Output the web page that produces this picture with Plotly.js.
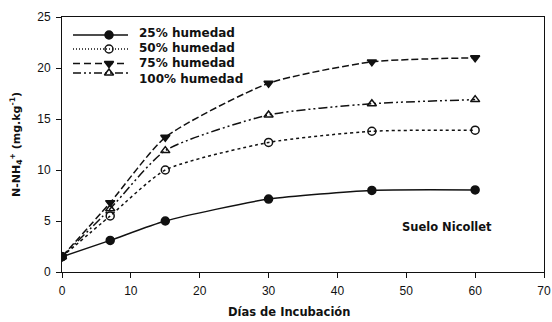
<!DOCTYPE html>
<html><head><meta charset="utf-8">
<script src="https://cdn.plot.ly/plotly-3.0.1.min.js"></script>
<style>html,body{margin:0;padding:0;background:#fff}#c{width:552px;height:322px}</style>
</head><body><div id="c"></div>
<script>
const days = [0, 7, 15, 30, 45, 60];
const h25 = [1.5, 3.1, 5.0, 7.15, 8.0, 8.05];
const h50 = [1.5, 5.5, 10.0, 12.7, 13.8, 13.9];
const h75 = [1.5, 6.8, 13.2, 18.5, 20.6, 21.0];
const h100 = [1.5, 6.2, 11.9, 15.4, 16.5, 16.9];
const names = ['25% humedad', '50% humedad', '75% humedad', '100% humedad'];
const xTicks = [0, 10, 20, 30, 40, 50, 60, 70];
const yTicks = [0, 5, 10, 15, 20, 25];

const series = [h25, h50, h75, h100];
const dashes = ['solid', 'dot', '7px,3px', '9px,3px,2px,3px,2px,3px'];
const legDashes = ['solid', '1px,2px', '7px,4px', '8px,3px,2px,3px,2px,3px'];
const symbols = ['circle', 'circle-open', 'triangle-down', 'triangle-up-open'];
const ink = '#111';
const traces = series.map((s, i) => ({
  x: days, y: s, name: names[i], type: 'scatter', mode: 'lines+markers', showlegend: false,
  line: {color: ink, width: 1.5, dash: dashes[i], shape: 'spline', smoothing: 0.6},
  marker: {symbol: symbols[i], size: 8, color: ink, line: {color: ink, width: 1.5}}
}));

// hand-drawn legend on a pixel-based overlay axis
const legLineY = [35, 49, 63.5, 73];
const legTextY = [33, 48, 63, 79];
const annotations = [];
names.forEach((n, i) => {
  traces.push({x: [73, 128], y: [legLineY[i], legLineY[i]], xaxis: 'x2', yaxis: 'y2', mode: 'lines',
    showlegend: false, hoverinfo: 'skip', line: {color: ink, width: 1.5, dash: legDashes[i]}});
  traces.push({x: [109], y: [legLineY[i]], xaxis: 'x2', yaxis: 'y2', mode: 'markers',
    showlegend: false, hoverinfo: 'skip',
    marker: {symbol: symbols[i], size: 8, color: ink, line: {color: ink, width: 1.5}}});
  annotations.push({x: 137, y: legTextY[i], xref: 'x2', yref: 'y2', xanchor: 'left', yanchor: 'middle',
    text: '<b>' + n + '</b>', showarrow: false,
    font: {family: 'DejaVu Sans, sans-serif', size: 12, color: ink}});
});

const tickFont = {family: 'Liberation Sans, Arial, sans-serif', size: 12, color: ink};
annotations.push({x: 55.9, y: 4.4, xref: 'x', yref: 'y', text: '<b>Suelo Nicollet</b>', showarrow: false,
  font: {family: 'DejaVu Sans, sans-serif', size: 11.5, color: ink}});
annotations.push({x: (288.5 - 62) / 482, y: 0, xref: 'paper', yref: 'paper', yanchor: 'middle', yshift: -40,
  text: '<b>Días de Incubación</b>', showarrow: false,
  font: {family: 'DejaVu Sans, sans-serif', size: 11.5, color: ink}});

const layout = {
  width: 552, height: 322,
  margin: {l: 62, r: 8, t: 17, b: 50},
  paper_bgcolor: '#fff', plot_bgcolor: '#fff',
  font: {family: 'Liberation Sans, Arial, sans-serif', size: 11, color: ink},
  showlegend: false,
  xaxis: {range: [0, 70], tickvals: xTicks, ticks: 'outside', ticklen: 5, tickwidth: 1, tickcolor: ink,
    ticklabelstandoff: 3,
    showline: true, linecolor: ink, linewidth: 1, mirror: true, showgrid: false, zeroline: false,
    tickfont: tickFont},
  yaxis: {range: [0, 25], tickvals: yTicks, ticks: 'outside', ticklen: 5, tickwidth: 1, tickcolor: ink,
    ticklabelstandoff: 3,
    showline: true, linecolor: ink, linewidth: 1, mirror: true, showgrid: false, zeroline: false,
    tickfont: tickFont,
    title: {text: '<b>N-NH<sub>4</sub><sup>+</sup> (mg.kg<sup>-1</sup>)</b>',
      font: {family: 'DejaVu Sans, sans-serif', size: 11, color: ink}, standoff: 14}},
  xaxis2: {overlaying: 'x', anchor: 'y2', range: [62, 544], visible: false, fixedrange: true},
  yaxis2: {overlaying: 'y', anchor: 'x2', range: [272, 17], visible: false, fixedrange: true},
  annotations: annotations
};
Plotly.newPlot('c', traces, layout, {staticPlot: true, displayModeBar: false});
</script></body></html>
